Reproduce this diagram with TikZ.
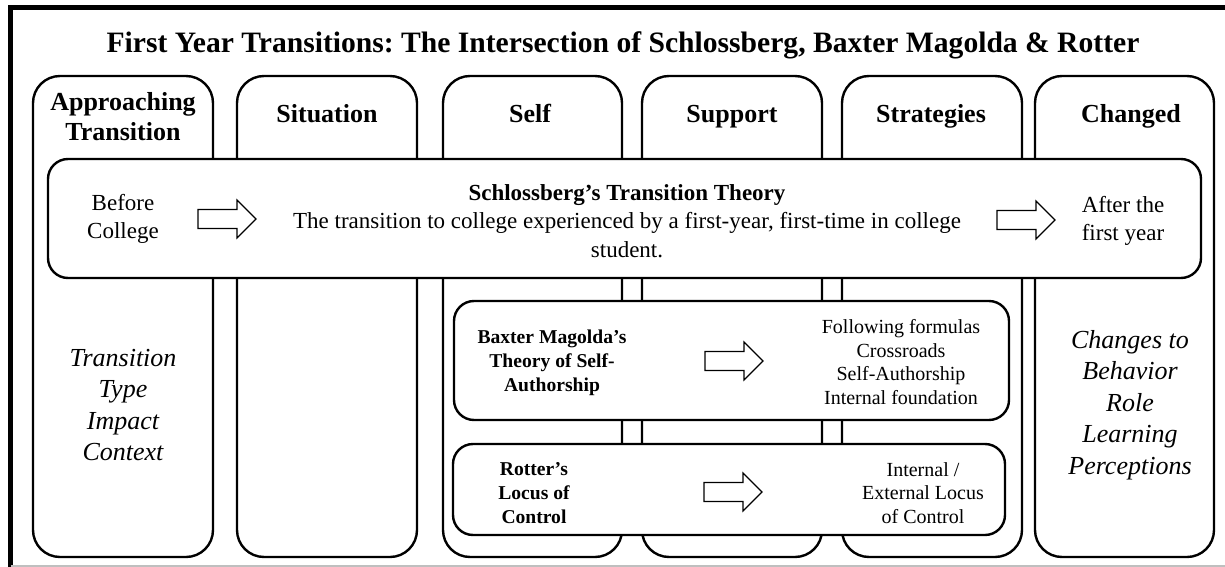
\documentclass[tikz,border=0pt]{standalone}
\usepackage{fontspec}
\setmainfont{Liberation Serif}
\begin{document}
\frenchspacing
\begin{tikzpicture}[x=0.5pt,y=-0.5pt,
  col/.style={line width=1.2pt, rounded corners=13.5pt, fill=white},
  box/.style={line width=1.2pt, rounded corners=10pt, fill=white},
  ttl/.style={font=\fontsize{14.8}{16}\selectfont\bfseries, inner sep=0pt, anchor=base},
  hdr/.style={font=\fontsize{13}{15}\selectfont\bfseries, align=center, inner sep=0pt},
  hdrone/.style={hdr, anchor=base},
  body/.style={font=\fontsize{11.5}{14.2}\selectfont, align=center, inner sep=0pt},
  ital/.style={font=\fontsize{13}{15.7}\selectfont\itshape, align=center, inner sep=0pt},
  small/.style={font=\fontsize{10}{11.8}\selectfont, align=center, inner sep=0pt},
  smallb/.style={font=\fontsize{9.8}{12}\selectfont\bfseries, align=center, inner sep=0pt},
  pics/barrow/.style={code={\draw[line width=0.6pt, fill=white] (-29,-9.5) -- (10,-9.5) -- (10,-19) -- (29,0) -- (10,19) -- (10,9.5) -- (-29,9.5) -- cycle;}}
]
\useasboundingbox (0,0) rectangle (1225,567);
\fill[white] (0,0) rectangle (1225,567);
% frame
\draw[line width=2.2pt] (10.5,567) -- (10.5,7.5) -- (1225,7.5);
\draw[black!25, line width=0.8pt] (10.5,566) -- (1225,566);
% columns
\draw[col] (33,76) rectangle (213,557);
\draw[col] (237,76) rectangle (417,557);
\draw[col] (443,76) rectangle (622,557);
\draw[col] (642,76) rectangle (822,557);
\draw[col] (842,76) rectangle (1022,557);
\draw[col] (1035,76) rectangle (1214,557);
% boxes
\draw[box] (48,159) rectangle (1201,278);
\draw[box] (454,301) rectangle (1009,420);
\draw[box] (453,444) rectangle (1005,535);
% title
\node[ttl] (title) at (623,53) {First Year Transitions: The Intersection of Schlossberg, Baxter Magolda \& Rotter};
% headers
\node[hdr] (h1) at (123,117) {Approaching\\Transition};
\node[hdrone] (h2) at (327,123) {Situation};
\node[hdrone] (h3) at (530,123) {Self};
\node[hdrone] (h4) at (732,123) {Support};
\node[hdrone] (h5) at (931,123) {Strategies};
\node[hdrone] (h6) at (1131,123) {Changed};
% Schlossberg row
\node[body] (before) at (123,219) {Before\\College};
\pic at (227,219) {barrow};
\node[body] (schl) at (627,221) {\textbf{Schlossberg’s Transition Theory}\\The transition to college experienced by a first-year, first-time in college\\student.};
\pic at (1026,220) {barrow};
\node[body] (after) at (1123,221) {After the\\first year};
% column lists
\node[ital] (l1) at (123,405) {Transition\\Type\\Impact\\Context};
\node[ital] (l6) at (1130,405) {Changes to\\Behavior\\Role\\Learning\\Perceptions};
% Baxter Magolda
\node[smallb] (bm) at (552,363) {Baxter Magolda’s\\Theory of Self-\\Authorship};
\pic at (734,361) {barrow};
\node[small] (bmlist) at (901,362) {Following formulas\\Crossroads\\Self-Authorship\\Internal foundation};
% Rotter
\node[smallb] (rot) at (534,493) {Rotter’s\\Locus of\\Control};
\pic at (733,492) {barrow};
\node[small] (rotlist) at (923,493) {Internal /\\External Locus\\of Control};
\end{tikzpicture}
\end{document}
